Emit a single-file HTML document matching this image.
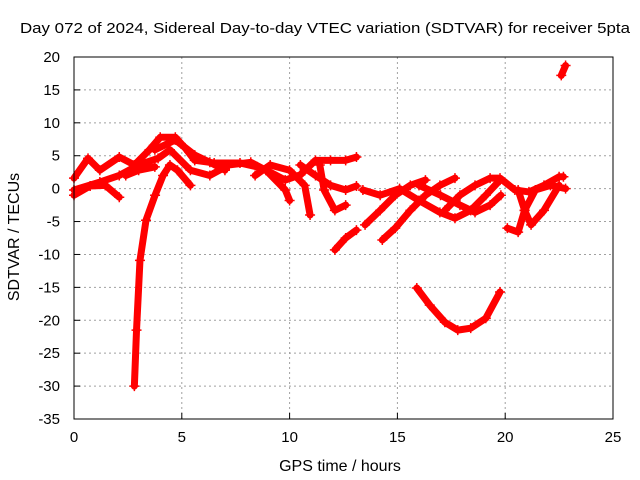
<!DOCTYPE html>
<html><head><meta charset="utf-8">
<style>
body{margin:0;background:#fff;}
svg{display:block;font-family:"Liberation Sans",sans-serif;}
</style></head>
<body>
<svg id="chart" width="640" height="480">
<rect width="640" height="480" fill="#fff"/>
<text x="20" y="33" font-size="15" textLength="610" lengthAdjust="spacingAndGlyphs">Day 072 of 2024, Sidereal Day-to-day VTEC variation (SDTVAR) for receiver 5pta</text>
<text x="340" y="471" font-size="16" text-anchor="middle">GPS time / hours</text>
<text x="0" y="0" font-size="16" text-anchor="middle" transform="translate(19,237) rotate(-90)">SDTVAR / TECUs</text>
<g id="grid"></g><g id="ticks"></g><g id="series"></g>
<rect x="74" y="57" width="539" height="362" fill="none" stroke="#000" stroke-width="1"/>
</svg>
<script>
const xTicks=[0,5,10,15,20,25];
const yTicks=[20,15,10,5,0,-5,-10,-15,-20,-25,-30,-35];
const s1=[[0,1.6],[0.65,4.6],[1.2,2.8],[2.1,4.8],[2.8,3.6],[3.5,5.9],[4.0,7.8],[4.7,7.8],[5.15,6.2],[5.6,4.3],[6.5,3.9],[7.7,3.9],[8.5,3.3],[9.1,2.5],[9.8,1.3],[10.5,2.1],[11.2,4.3],[11.9,4.3],[12.6,4.3],[13.1,4.8]];
const s2=[[0,-1],[0.75,0.4],[1.45,0.5],[2.1,-1.3]];
const s3=[[0,-0.2],[1.2,1],[2.1,2],[3,3.6],[3.9,4.6],[4.45,5.9],[5.4,2.8],[6.3,2],[7.2,3.6],[8.2,4],[8.9,2.8],[9.8,-0.2],[10,-1.8]];
const s4=[[2.8,-30],[2.9,-21.5],[3.06,-10.9],[3.34,-4.8],[3.76,-1],[4.13,2],[4.45,3.6],[4.8,2.8],[5.4,0.5]];
const s5=[[2.4,2],[3,2.8],[3.75,3.3]];
const s6=[[3.75,5.9],[4.7,7.4],[5.6,5.1],[6.3,4],[7,2.8]];
const s7=[[8.4,2],[9.1,3.6],[10,2.8],[10.7,0.5],[10.95,-4]];
const s8=[[10.5,3.6],[11.2,2],[11.9,0.5],[12.6,-0.2],[13.1,0.4]];
const s9=[[11.4,3.6],[11.6,-0.2],[12.1,-3.3],[12.6,-2.5]];
const s10=[[12.1,-9.3],[12.6,-7.5],[13.1,-6.3]];
const s11=[[13.5,-5.5],[14.2,-3.3],[14.9,-1],[15.6,0.5],[16.3,1.3]];
const s12=[[14.3,-7.8],[14.9,-6],[15.6,-3.3],[16.3,-1],[16.97,0.5],[17.67,1.6]];
const s13=[[13.4,-0.2],[14.2,-1],[15.1,0],[16.0,-1.8],[16.97,-3.6],[17.67,-4.5],[18.4,-3.3],[19.1,-1],[19.76,1.3]];
const s14=[[16,0.5],[17,-1],[17.9,-2.5],[18.6,-3.6],[19.3,-2.5],[19.8,-1]];
const s15=[[17.2,-3.3],[17.9,-1],[18.6,0.5],[19.3,1.6],[19.76,1.6],[20.45,-0.2],[21.1,-0.5],[21.8,0.5],[22.5,1.8],[22.7,1.8]];
const s16=[[20.1,-6],[20.6,-6.6],[20.9,-3.3],[21.4,-0.2],[22.1,0.5],[22.8,0]];
const s17=[[20.6,-0.2],[20.9,-3.3],[21.2,-5.5],[21.8,-3.3],[22.5,0.5]];
const s18=[[15.9,-15.1],[16.5,-17.7],[17.2,-20.3],[17.8,-21.5],[18.4,-21.2],[19.1,-19.7],[19.76,-15.7]];
const s19=[[22.6,17.2],[22.8,18.7]];
const allSeries=[s1,s2,s3,s4,s5,s6,s7,s8,s9,s10,s11,s12,s13,s14,s15,s16,s17,s18,s19];

const X0=74,X1=613,Y0=57,Y1=419;
const xs=h=>X0+(h-0)/(25-0)*(X1-X0);
const ys=v=>Y0+(20-v)/(20-(-35))*(Y1-Y0);
const NS="http://www.w3.org/2000/svg";
function mk(tag,attrs,parent){const e=document.createElementNS(NS,tag);for(const k in attrs)e.setAttribute(k,attrs[k]);parent.appendChild(e);return e;}
const grid=document.getElementById('grid'),ticks=document.getElementById('ticks'),ser=document.getElementById('series');
xTicks.forEach(t=>{
  const x=xs(t);
  if(t>0&&t<25){const g=mk('line',{x1:x,x2:x,y1:Y0,y2:Y1,stroke:'#a0a0a0','stroke-dasharray':'2,3'},grid);
  
  }
  const tk=mk('line',{x1:x,x2:x,y1:Y1,y2:Y1-6,stroke:'#000'},ticks);
  
  
  const l=mk('text',{x:x,y:Y1+23,'font-size':15,'text-anchor':'middle'},ticks);l.textContent=t;
  
  
});
yTicks.forEach(t=>{
  const y=ys(t);
  if(t<20&&t>-35){const g=mk('line',{x1:X0,x2:X1,y1:y,y2:y,stroke:'#a0a0a0','stroke-dasharray':'2,3'},grid);
  
  }
  const tk=mk('line',{x1:X0,x2:X0+6,y1:y,y2:y,stroke:'#000'},ticks);
  
  
  const l=mk('text',{x:X0-14,y:y+5,'font-size':15,'text-anchor':'end'},ticks);l.textContent=t;
  
  
});
allSeries.forEach((s,i)=>{
  const g=mk('g',{},ser);
  
  
  mk('polyline',{points:s.map(p=>xs(p[0])+','+ys(p[1])).join(' '),fill:'none',stroke:'#ff0000','stroke-width':7,'stroke-linejoin':'round','stroke-linecap':'round'},g);
  s.forEach(p=>{
    const x=xs(p[0]),y=ys(p[1]);
    const m=mk('path',{d:`M${x-5},${y}H${x+5}M${x},${y-5}V${y+5}`,stroke:'#ff0000','stroke-width':1.5},g);
    
    
  });
});
</script>
</body></html>
